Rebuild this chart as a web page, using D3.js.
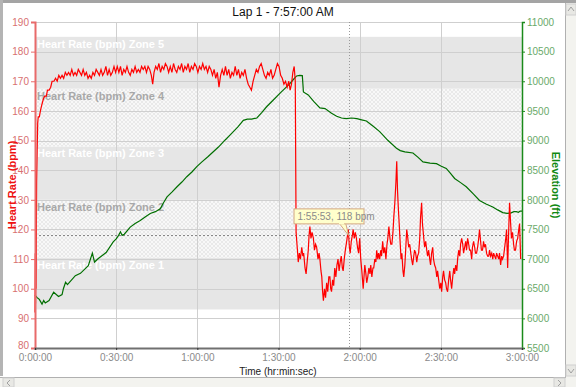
<!DOCTYPE html>
<html>
<head>
<meta charset="utf-8">
<script src="https://cdn.jsdelivr.net/npm/d3@7"></script>
<style>
  body { margin: 0; background: #fff; }
  svg { display: block; font-family: "Liberation Sans", Arial, sans-serif; }
</style>
</head>
<body>
<div id="chart"></div>
<script>
// Chart data

var chartTitle = "Lap 1 - 7:57:00 AM";

// time in minutes, heart rate in bpm
var heartRate = [
  [0,92],[0.1,112],[0.2,95],[0.3,115],[0.4,100],[0.5,120],[0.6,136],[0.8,147],[1.0,156],[1.2,158],
  [1.6,158],[2.0,160],[2.5,162],[3.1,164],[3.6,165],[4.2,165],[4.6,167],[5.2,167],[5.8,168],[6.3,170],
  [7.0,170],[7.6,171],[8.2,170],[8.8,172],[9.4,171],[10,172],[10.6,171],[11.2,173],[11.8,172],[12.4,173],
  [13,172],[13.6,174],[14.2,172],[14.8,173],[15.4,172],[16,174],[16.6,173],[17.2,172],[17.8,174],[18.4,172],
  [19,173],[19.6,171],[20.2,172],[20.8,171],[21.4,173],[22,172],[22.6,174],[23.2,173],[23.8,172],[24.4,174],
  [25,172],[25.6,173],[26.2,175],[26.8,172],[27.4,174],[28,172],[28.6,173],[29.2,175],[29.8,173],[30.4,175],
  [31,173],[31.6,175],[32.2,172],[32.8,174],[33.4,173],[34,175],[34.6,173],[35.2,172],[35.8,174],[36.4,173],
  [37,175],[37.6,173],[38.2,174],[38.8,173],[39.4,175],[40,174],[40.6,175],[41.2,173],[41.8,175],[42.4,174],
  [43,172],[43.5,169],[44,173],[44.6,175],[45.2,174],[45.8,176],[46.4,173],[47,175],[47.6,174],[48.2,176],
  [48.8,175],[49.4,173],[50,175],[50.6,173],[51.2,176],[51.8,174],[52.4,173],[53,175],[53.6,174],[54.2,176],
  [54.8,173],[55.4,175],[56,174],[56.6,176],[57.2,173],[57.8,175],[58.4,174],[59,176],[59.6,175],[60.2,173],
  [60.8,175],[61.4,174],[62,176],[62.6,174],[63.2,175],[63.8,173],[64.4,175],[65,174],[65.6,172],[66.2,174],
  [66.8,171],[67.4,173],[68,168],[68.6,172],[69.2,174],[69.8,172],[70.4,175],[71,172],[71.6,174],[72.2,171],
  [72.8,173],[73.4,172],[74,175],[74.6,172],[75.2,174],[75.8,171],[76.4,173],[77,172],[77.6,174],[78.2,171],
  [78.8,169],[79.4,168],[80,167],[80.6,170],[81.2,172],[81.8,174],[82.4,173],[83,175],[83.6,176],[84.2,174],
  [84.8,172],[85.4,171],[86,173],[86.6,172],[87.2,174],[87.8,171],[88.4,172],[89,174],[89.6,176],[90.2,175],
  [90.8,172],[91.4,171],[92,169],[92.6,170],[93.2,168],[93.8,170],[94.3,167],[94.8,169],[95.3,173],[95.8,175],
  [96.2,170],[96.5,119],[97,113],[97.3,109],[97.7,112],[98.1,110],[98.6,114],[99,111],[99.3,112],[99.8,107],
  [100.2,105],[100.6,109],[101,113],[101.3,118],[101.6,121],[102,117],[102.4,119],[102.9,117],[103.3,113],[103.7,115],
  [104.1,114],[104.6,110],[105,112],[105.3,110],[105.7,106],[106,104],[106.3,99],[106.6,96],[107,100],[107.4,97],
  [107.8,102],[108.2,99],[108.6,104],[109,104],[109.3,100],[109.6,99],[110,103],[110.4,101],[110.8,107],[111.2,104],
  [111.6,108],[112,110],[112.4,106],[112.8,109],[113.2,111],[113.6,107],[113.9,106],[114.3,110],[114.7,113],[115.2,116],
  [115.5,118],[115.8,120],[116.2,114],[116.5,112],[116.9,116],[117.3,118],[117.6,120],[118,117],[118.4,119],[118.8,117],
  [119.2,114],[119.6,112],[120,117],[120.4,110],[120.8,106],[121.3,100],[121.6,104],[121.9,108],[122.3,105],[122.6,102],
  [123,104],[123.4,107],[123.8,105],[124.1,108],[124.5,104],[124.9,107],[125.2,107],[125.6,110],[126,109],[126.3,113],
  [126.7,110],[127,112],[127.4,110],[127.8,113],[128.1,111],[128.5,116],[128.9,112],[129.3,114],[129.7,110],[130.1,115],
  [130.4,117],[130.8,121],[131.2,117],[131.5,115],[131.9,115],[132.3,119],[132.6,124],[133,129],[133.4,136],[133.7,143],
  [134,133],[134.3,127],[134.6,122],[135,115],[135.3,110],[135.6,112],[136,106],[136.3,104],[136.7,108],[137,113],
  [137.4,120],[137.8,117],[138.1,114],[138.5,115],[138.9,112],[139.2,110],[139.6,108],[140,111],[140.3,113],[140.7,112],
  [141.1,109],[141.4,111],[141.8,112],[142.2,117],[142.5,124],[142.9,129],[143.2,122],[143.7,117],[144,114],[144.4,116],
  [144.8,113],[145.1,111],[145.5,113],[145.9,110],[146.2,108],[146.6,112],[147,114],[147.3,110],[147.7,108],[148.1,107],
  [148.5,104],[148.8,106],[149.2,103],[149.6,100],[150,102],[150.3,99],[150.7,104],[151,106],[151.4,103],[151.8,102],
  [152.1,100],[152.5,99],[152.9,103],[153.3,106],[153.6,103],[154,100],[154.4,104],[154.8,107],[155.1,105],[155.5,108],
  [155.9,106],[156.2,110],[156.6,113],[157,111],[157.3,115],[157.7,117],[158.1,115],[158.4,112],[158.8,114],[159.2,116],
  [159.5,113],[159.9,117],[160.3,115],[160.6,113],[161,113],[161.4,110],[161.7,114],[162.1,116],[162.5,114],[162.8,112],
  [163.2,112],[163.6,114],[164,117],[164.3,120],[164.7,116],[165,113],[165.4,113],[165.8,116],[166.1,114],[166.5,115],
  [166.9,112],[167.3,111],[167.7,111],[168,113],[168.4,111],[168.8,112],[169.2,110],[169.5,112],[169.9,111],[170.3,110],
  [170.6,112],[171,111],[171.4,110],[171.7,112],[172.1,108],[172.5,111],[172.8,110],[173.2,111],[173.6,114],[174,117],
  [174.3,120],[174.7,107],[175,117],[175.4,129],[175.8,122],[176.1,117],[176.5,119],[176.9,115],[177.2,113],[177.6,113],
  [178,116],[178.4,117],[178.8,120],[179.1,122],[179.5,110]
];

// time in minutes, elevation in feet
var elevation = [
  [0,6390],[0.8,6350],[1.6,6320],[2.6,6240],[3.2,6300],[3.8,6260],[5.2,6300],[6.9,6440],[8.7,6370],[10,6400],
  [10.5,6500],[11.3,6610],[12,6570],[14.9,6720],[16.8,6760],[19.7,6890],[21.2,7100],[22,6950],[23.4,7010],[26.3,7110],
  [28.9,7290],[30,7340],[30.9,7400],[31.6,7460],[32.2,7400],[33,7420],[35.2,7540],[37,7600],[38.9,7650],[40.7,7710],
  [42.6,7770],[44.5,7800],[46.3,7850],[47.5,7950],[48.8,8050],[50.6,8130],[52.5,8220],[54.3,8300],[56.1,8390],[58,8470],
  [59.8,8560],[61.7,8640],[64,8730],[65.9,8810],[67.8,8890],[70.3,9010],[72.7,9120],[75,9230],[77,9340],[78.5,9360],
  [80,9360],[82,9380],[83.8,9470],[85.6,9570],[88,9680],[90.6,9800],[92.4,9880],[94.2,9960],[95.5,10030],[96.7,10090],
  [97.8,10100],[98.8,10095],[99.1,9900],[99.2,9820],[101,9770],[103,9660],[105.3,9550],[107.2,9540],[109.6,9460],[111.5,9410],
  [113.3,9380],[115,9370],[117,9380],[119,9370],[120.7,9350],[122.5,9330],[125,9240],[127.4,9150],[130.5,9000],[133.6,8870],
  [135,8830],[136.7,8810],[139.7,8790],[141.5,8720],[143.4,8640],[146,8620],[148.4,8610],[150,8570],[152,8530],[153.5,8450],
  [155.1,8360],[157.3,8290],[159.4,8220],[162,8100],[164.3,7990],[166.7,7930],[169.2,7880],[171,7830],[172.9,7785],[174.5,7770],
  [176,7780],[177,7800],[177.9,7800],[178.7,7790],[179.3,7810],[180,7810]
];

// heart rate zones (bpm limits)
var zoneNames = ["Heart Rate (bpm) Zone 1", "Heart Rate (bpm) Zone 2", "Heart Rate (bpm) Zone 3",
                 "Heart Rate (bpm) Zone 4", "Heart Rate (bpm) Zone 5"];
var zoneLimits = [93, 110.5, 130, 148, 167.5, 185];

var hrTicks = d3.range(80, 191, 10);
var elevTicks = d3.range(5500, 11001, 500);
var timeTicks = d3.range(0, 181, 30);

// cursor readout
var cursor = { time: 115.88, bpm: 118, label: "1:55:53, 118 bpm" };

// Layout
var svgWidth = 576;
var svgHeight = 387;
var plot = { left: 35, right: 522, top: 22, bottom: 348 };

var svg = d3.select("#chart")
  .append("svg")
  .attr("width", svgWidth)
  .attr("height", svgHeight);

// hatch pattern for the alternate zones
var defs = svg.append("defs");
var pat = defs.append("pattern")
  .attr("id", "hatch")
  .attr("width", 4)
  .attr("height", 4)
  .attr("patternUnits", "userSpaceOnUse");
pat.append("rect").attr("width", 4).attr("height", 4).attr("fill", "#f8f8f8");
pat.append("path")
  .attr("d", "M0,0L4,4M4,0L0,4")
  .attr("stroke", "#e2e2e2")
  .attr("stroke-width", 0.7);

// window frame
svg.append("rect").attr("width", svgWidth).attr("height", svgHeight).attr("fill", "#fff");
svg.append("rect").attr("x", 0).attr("y", 0).attr("width", svgWidth).attr("height", 3).attr("fill", "#a4a4a4");
svg.append("rect").attr("x", 0).attr("y", 0).attr("width", 3).attr("height", 376).attr("fill", "#b4b4b4");

// scales
var x = d3.scaleLinear().domain([0, 180]).range([plot.left, plot.right]);
var yHR = d3.scaleLinear().domain([80, 190]).range([plot.bottom, plot.top]);
var yEl = d3.scaleLinear().domain([5500, 11000]).range([plot.bottom, plot.top]);

function fmtTime(m) {
  var h = Math.floor(m / 60);
  var mm = Math.floor(m % 60);
  return h + ":" + (mm < 10 ? "0" : "") + mm + ":00";
}

// zone bands
var zones = zoneNames.map(function(name, i) {
  return { name: name, lo: zoneLimits[i], hi: zoneLimits[i + 1], solid: i % 2 === 0 };
});

svg.append("g").selectAll("rect")
  .data(zones)
  .enter()
  .append("rect")
  .attr("x", plot.left)
  .attr("width", plot.right - plot.left)
  .attr("y", d => yHR(d.hi))
  .attr("height", d => yHR(d.lo) - yHR(d.hi))
  .attr("fill", d => d.solid ? "#e6e6e6" : "url(#hatch)");

// grid lines
var grid = svg.append("g").attr("stroke", "#cfcfcf").attr("stroke-width", 1);
grid.selectAll("line.h")
  .data(hrTicks)
  .enter()
  .append("line")
  .attr("x1", plot.left).attr("x2", plot.right)
  .attr("y1", d => Math.round(yHR(d)) + 0.5)
  .attr("y2", d => Math.round(yHR(d)) + 0.5);
grid.selectAll("line.v")
  .data(timeTicks)
  .enter()
  .append("line")
  .attr("y1", plot.top).attr("y2", plot.bottom)
  .attr("x1", d => Math.round(x(d)) + 0.5)
  .attr("x2", d => Math.round(x(d)) + 0.5);

// zone labels
svg.append("g").selectAll("text")
  .data(zones)
  .enter()
  .append("text")
  .attr("x", plot.left + 2)
  .attr("y", d => yHR(d.hi) + 11)
  .attr("font-size", "11px")
  .attr("font-weight", "bold")
  .attr("fill", d => d.solid ? "#ffffff" : "#a8a8a8")
  .text(d => d.name);

// cursor cross-hair
svg.append("line")
  .attr("x1", plot.left).attr("x2", plot.right)
  .attr("y1", Math.round(yHR(cursor.bpm)) + 0.5)
  .attr("y2", Math.round(yHR(cursor.bpm)) + 0.5)
  .attr("stroke", "#888").attr("stroke-dasharray", "2,2");
svg.append("line")
  .attr("y1", plot.top).attr("y2", plot.bottom)
  .attr("x1", Math.round(x(cursor.time)) + 0.5)
  .attr("x2", Math.round(x(cursor.time)) + 0.5)
  .attr("stroke", "#999").attr("stroke-dasharray", "1,2");

// data lines
var elevLine = d3.line()
  .x(d => x(d[0]))
  .y(d => yEl(d[1]));
svg.append("path")
  .datum(elevation)
  .attr("d", elevLine)
  .attr("fill", "none")
  .attr("stroke", "#006f00")
  .attr("stroke-width", 1.2);

var hrLine = d3.line()
  .x(d => x(d[0]))
  .y(d => yHR(d[1]));
svg.append("path")
  .datum(heartRate)
  .attr("d", hrLine)
  .attr("fill", "none")
  .attr("stroke", "#ff0000")
  .attr("stroke-width", 1.2);

// tooltip
var cx = x(cursor.time), cy = yHR(cursor.bpm);
var tip = svg.append("g");
tip.append("path")
  .attr("d", `M${cx - 10},${cy - 13}L${cx},${cy}L${cx - 3},${cy - 13}Z`)
  .attr("fill", "#ffffcc").attr("stroke", "#d4a882");
tip.append("rect")
  .attr("x", cx - 54.5).attr("y", cy - 26.5)
  .attr("width", 70).attr("height", 15)
  .attr("fill", "#ffffcc").attr("stroke", "#d4a882");
tip.append("rect")
  .attr("x", cx - 9.5).attr("y", cy - 12.5)
  .attr("width", 5).attr("height", 1.5)
  .attr("fill", "#ffffcc");
tip.append("text")
  .attr("x", cx - 51).attr("y", cy - 15)
  .attr("font-size", "10px")
  .attr("fill", "#8a8a8a")
  .text(cursor.label);

// axes
var leftAxis = d3.axisLeft(yHR).tickValues(hrTicks).tickSize(4).tickPadding(2);
var gLeft = svg.append("g")
  .attr("transform", `translate(${plot.left}, 0)`)
  .call(leftAxis);
gLeft.select(".domain").attr("stroke", "#e86a6a").attr("stroke-width", 2);
gLeft.selectAll(".tick line").attr("stroke", "#e86a6a");
gLeft.selectAll(".tick text").attr("fill", "#d87070").attr("font-size", "10px")
  .attr("font-family", "Liberation Sans, Arial, sans-serif");
// lowest label sits just above the time labels
gLeft.selectAll(".tick text").filter(d => d === 80).attr("dy", "0.02em");

var rightAxis = d3.axisRight(yEl).tickValues(elevTicks).tickFormat(d3.format("d"))
  .tickSize(3).tickPadding(2);
var gRight = svg.append("g")
  .attr("transform", `translate(${plot.right}, 0)`)
  .call(rightAxis);
gRight.select(".domain").attr("stroke", "#1a8a1a").attr("stroke-width", 1.5);
gRight.selectAll(".tick line").attr("stroke", "#1a8a1a");
gRight.selectAll(".tick text").attr("fill", "#6aaa6a").attr("font-size", "10px")
  .attr("font-family", "Liberation Sans, Arial, sans-serif");

var bottomAxis = d3.axisBottom(x).tickValues(timeTicks).tickFormat(fmtTime).tickSize(2).tickPadding(4);
var gBottom = svg.append("g")
  .attr("transform", `translate(0, ${plot.bottom})`)
  .call(bottomAxis);
gBottom.select(".domain").attr("stroke", "#707070").attr("stroke-width", 2);
gBottom.selectAll(".tick line").attr("stroke", "#333");
gBottom.selectAll(".tick text").attr("fill", "#8a8a8a").attr("font-size", "10px")
  .attr("font-family", "Liberation Sans, Arial, sans-serif");

// titles
svg.append("text")
  .attr("x", 283).attr("y", 16)
  .attr("text-anchor", "middle")
  .attr("font-size", "12px")
  .attr("fill", "#111")
  .text(chartTitle);

svg.append("text")
  .attr("x", 278).attr("y", 375)
  .attr("text-anchor", "middle")
  .attr("font-size", "10px")
  .attr("fill", "#222")
  .text("Time (hr:min:sec)");

svg.append("text")
  .attr("transform", "translate(12, 185) rotate(-90)")
  .attr("text-anchor", "middle")
  .attr("dy", "0.35em")
  .attr("font-size", "11px")
  .attr("font-weight", "bold")
  .attr("fill", "#ee1111")
  .text("Heart Rate (bpm)");

svg.append("text")
  .attr("transform", "translate(556, 185) rotate(90)")
  .attr("text-anchor", "middle")
  .attr("dy", "0.35em")
  .attr("font-size", "11px")
  .attr("font-weight", "bold")
  .attr("fill", "#118811")
  .text("Elevation (ft)");

// scrollbars
var sb = svg.append("g");
sb.append("rect").attr("x", 0).attr("y", 377).attr("width", svgWidth).attr("height", 10).attr("fill", "#f3f3ef");
sb.append("line").attr("x1", 0).attr("x2", 566).attr("y1", 377.5).attr("y2", 377.5).attr("stroke", "#b0b0b0");
sb.append("rect").attr("x", 565).attr("y", 3).attr("width", 11).attr("height", 384).attr("fill", "#f3f3ef");
sb.append("line").attr("x1", 565.5).attr("x2", 565.5).attr("y1", 3).attr("y2", 378).attr("stroke", "#b0b0b0");
sb.append("rect").attr("x", 566).attr("y", 4).attr("width", 10).attr("height", 11).attr("fill", "#e8e8e4").attr("stroke", "#d0d0d0");
sb.append("rect").attr("x", 566).attr("y", 365).attr("width", 10).attr("height", 11).attr("fill", "#e8e8e4").attr("stroke", "#d0d0d0");
sb.append("rect").attr("x", 3).attr("y", 378).attr("width", 11).attr("height", 9).attr("fill", "#e8e8e4").attr("stroke", "#d0d0d0");
sb.append("rect").attr("x", 554).attr("y", 378).attr("width", 11).attr("height", 9).attr("fill", "#e8e8e4").attr("stroke", "#d0d0d0");
sb.append("path").attr("d", "M568,11L571,7L574,11").attr("fill", "none").attr("stroke", "#a0a0a0");
sb.append("path").attr("d", "M568,369L571,373L574,369").attr("fill", "none").attr("stroke", "#a0a0a0");
sb.append("path").attr("d", "M10,380L7,383L10,386").attr("fill", "none").attr("stroke", "#a0a0a0");
sb.append("path").attr("d", "M558,380L561,383L558,386").attr("fill", "none").attr("stroke", "#a0a0a0");
</script>
</body>
</html>
